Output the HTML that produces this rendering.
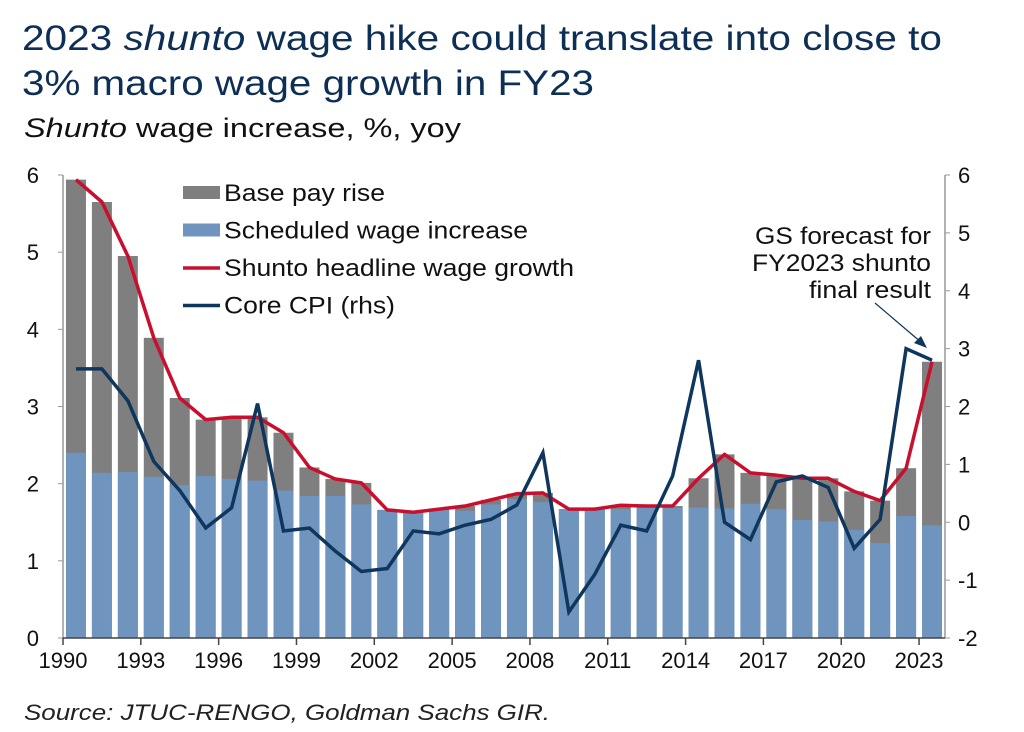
<!DOCTYPE html>
<html><head><meta charset="utf-8"><style>
body{margin:0;background:#fff;width:1024px;height:732px;overflow:hidden}
svg{display:block;font-family:"Liberation Sans",Arial,sans-serif}
</style></head><body>
<svg id="s" width="1024" height="732" viewBox="0 0 1024 732">
<text x="22" y="50" font-size="35" fill="#0d2f55" textLength="920" lengthAdjust="spacingAndGlyphs">2023 <tspan font-style="italic">shunto</tspan> wage hike could translate into close to</text>
<text x="22" y="95" font-size="35" fill="#0d2f55" textLength="572" lengthAdjust="spacingAndGlyphs">3% macro wage growth in FY23</text>
<text x="24" y="137" font-size="27" fill="#111" textLength="437" lengthAdjust="spacingAndGlyphs"><tspan font-style="italic">Shunto</tspan> wage increase, %, yoy</text>
<g id="g"></g>
<text x="24" y="720" font-size="22" font-style="italic" fill="#222" textLength="526" lengthAdjust="spacingAndGlyphs">Source: JTUC-RENGO, Goldman Sachs GIR.</text>
</svg>
<script>
var tot=[5.94,5.65,4.95,3.89,3.11,2.83,2.86,2.86,2.66,2.21,2.06,2.01,1.66,1.63,1.67,1.71,1.79,1.87,1.88,1.67,1.67,1.72,1.71,1.71,2.07,2.38,2.14,2.11,2.07,2.07,1.90,1.78,2.20,3.58];
var blu=[2.4,2.14,2.15,2.09,1.98,2.10,2.06,2.04,1.91,1.84,1.84,1.73,1.66,1.63,1.67,1.65,1.73,1.80,1.76,1.67,1.67,1.67,1.70,1.69,1.69,1.68,1.74,1.67,1.53,1.51,1.40,1.23,1.58,1.46];
var cpi=[2.65,2.65,2.1,1.05,0.55,-0.1,0.25,2.05,-0.15,-0.1,-0.5,-0.85,-0.8,-0.15,-0.2,-0.05,0.05,0.3,1.2,-1.55,-0.9,-0.05,-0.15,0.8,2.8,0.0,-0.3,0.7,0.8,0.6,-0.45,0.05,3.0,2.8];
var L=63,R=945,T=175,B=638,w=(R-L)/34;
function yl(v){return B-(v/6)*(B-T)}
function yr(v){return B-((v+2)/8)*(B-T)}
function cx(i){return L+w*(i+0.5)}
var h='';
for(var i=0;i<34;i++){var x=cx(i)-10;
h+='<rect x="'+x+'" y="'+yl(tot[i])+'" width="20" height="'+(B-yl(tot[i]))+'" fill="#7f7f7f"/>';
h+='<rect x="'+x+'" y="'+yl(blu[i])+'" width="20" height="'+(B-yl(blu[i]))+'" fill="#6f95bf"/>';}
h+='<polyline fill="none" stroke="#c8102e" stroke-width="3.5" stroke-linejoin="round" points="'+tot.map(function(v,i){return cx(i)+','+yl(v)}).join(' ')+'"/>';
h+='<polyline fill="none" stroke="#0f365c" stroke-width="3.5" stroke-linejoin="miter" points="'+cpi.map(function(v,i){return cx(i)+','+yr(v)}).join(' ')+'"/>';
h+='<line x1="'+L+'" y1="'+T+'" x2="'+L+'" y2="'+B+'" stroke="#999" stroke-width="1.5"/>';
h+='<line x1="'+R+'" y1="'+T+'" x2="'+R+'" y2="'+B+'" stroke="#999" stroke-width="1.5"/>';
h+='<line x1="'+L+'" y1="'+B+'" x2="'+R+'" y2="'+B+'" stroke="#444" stroke-width="1.5"/>';
for(var k=0;k<=6;k++){var y=yl(k);h+='<line x1="'+(L-5)+'" y1="'+y+'" x2="'+L+'" y2="'+y+'" stroke="#999"/>';
h+='<text x="'+(L-24)+'" y="'+(y+8)+'" font-size="22" text-anchor="end" fill="#111">'+k+'</text>';}
for(var k=-2;k<=6;k++){var y=yr(k);h+='<line x1="'+R+'" y1="'+y+'" x2="'+(R+5)+'" y2="'+y+'" stroke="#999"/>';
h+='<text x="'+(R+13)+'" y="'+(y+8)+'" font-size="22" fill="#111">'+k+'</text>';}
for(var i=0;i<34;i+=3){var x=L+w*i;h+='<line x1="'+x+'" y1="'+B+'" x2="'+x+'" y2="'+(B+7)+'" stroke="#444" stroke-width="1.5"/>';
h+='<text x="'+x+'" y="'+(B+30)+'" font-size="22" text-anchor="middle" fill="#111">'+(1990+i)+'</text>';}
var lg=[['Base pay rise','r','#7f7f7f',161],['Scheduled wage increase','r','#6f95bf',304],['Shunto headline wage growth','l','#c8102e',350],['Core CPI (rhs)','l','#0f365c',171]];
lg.forEach(function(e,j){var y=193+j*37.5;
if(e[1]=='r')h+='<rect x="183" y="'+(y-7)+'" width="37" height="13" fill="'+e[2]+'"/>';else h+='<line x1="183" y1="'+y+'" x2="220" y2="'+y+'" stroke="'+e[2]+'" stroke-width="3.5"/>';
h+='<text x="224" y="'+(y+8)+'" font-size="24" fill="#111" textLength="'+e[3]+'" lengthAdjust="spacingAndGlyphs">'+e[0]+'</text>';});
h+='<text font-size="24" text-anchor="end" fill="#111"><tspan x="931" y="244" textLength="176" lengthAdjust="spacingAndGlyphs">GS forecast for</tspan><tspan x="931" y="271" textLength="179" lengthAdjust="spacingAndGlyphs">FY2023 shunto</tspan><tspan x="931" y="298" textLength="122" lengthAdjust="spacingAndGlyphs">final result</tspan></text>';
h+='<line x1="875" y1="303" x2="922" y2="343" stroke="#0f365c" stroke-width="1.2"/><polygon points="927,348 914,343 921,336" fill="#0f365c"/>';
document.getElementById('g').innerHTML=h;
</script>
</body></html>
